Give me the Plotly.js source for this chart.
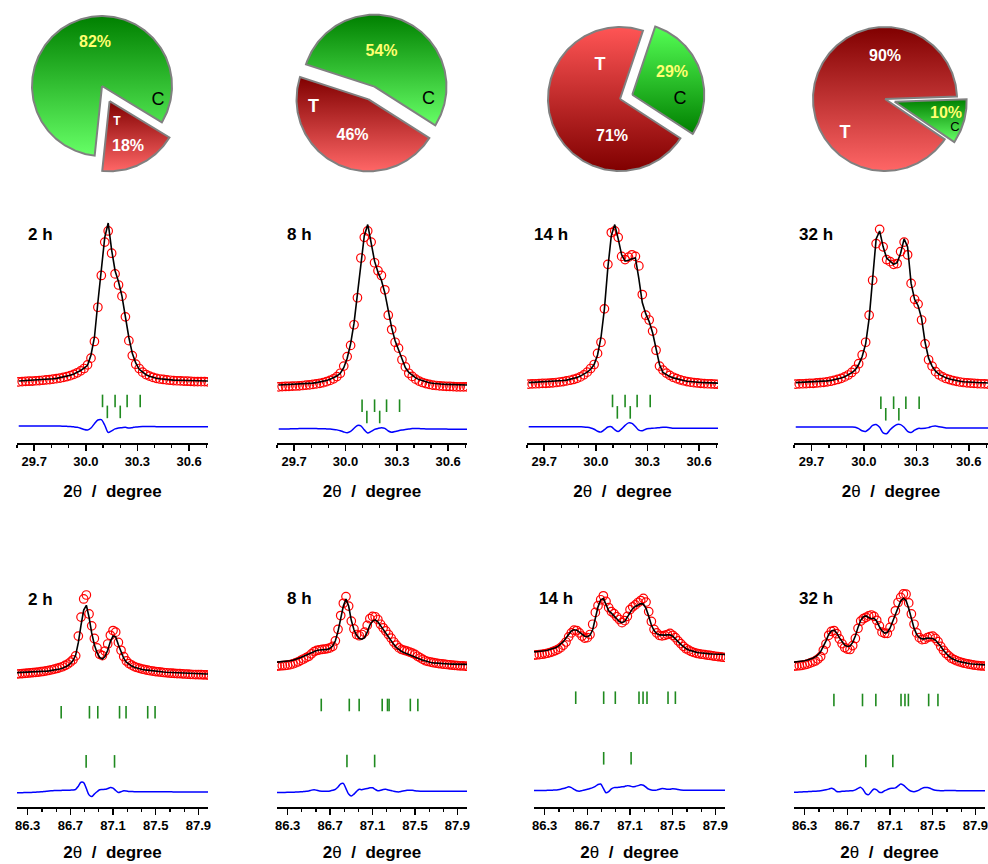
<!DOCTYPE html>
<html><head><meta charset="utf-8">
<script src="https://cdn.plot.ly/plotly-3.0.1.min.js"></script>
<style>html,body{margin:0;padding:0;background:#fff}#chart{width:988px;height:864px}</style>
</head><body><div id="chart"></div>
<script>
// ---------------- DATA ----------------
const times = ['2 h', '8 h', '14 h', '32 h'];
const pctC = [82, 54, 29, 10];
const pctT = [18, 46, 71, 90];

// 2theta grid, low-angle window
const topTheta = [29.61,29.63,29.65,29.67,29.69,29.71,29.73,29.75,29.77,29.79,
 29.81,29.83,29.85,29.87,29.89,29.91,29.93,29.95,29.97,29.99,
 30.01,30.03,30.05,30.07,30.09,30.11,30.13,30.15,30.17,30.19,
 30.21,30.23,30.25,30.27,30.29,30.31,30.33,30.35,30.37,30.39,
 30.41,30.43,30.45,30.47,30.49,30.51,30.53,30.55,30.57,30.59,
 30.61,30.63,30.65,30.67,30.69,30.71];

const topObs2h = [0.001,0.003,0.004,0.005,0.006,0.008,0.009,0.011,0.013,0.015,
 0.018,0.021,0.025,0.029,0.034,0.040,0.048,0.058,0.070,0.085,
 0.108,0.150,0.255,0.470,0.670,0.880,0.950,0.810,0.680,0.610,
 0.540,0.410,0.260,0.166,0.112,0.085,0.062,0.047,0.037,0.029,
 0.023,0.019,0.016,0.013,0.011,0.009,0.008,0.007,0.006,0.005,
 0.004,0.003,0.003,0.002,0.002,0.001];
const topCalc2h = [0.006,0.007,0.008,0.009,0.010,0.011,0.012,0.014,0.016,0.018,
 0.020,0.023,0.027,0.031,0.036,0.042,0.050,0.060,0.072,0.088,
 0.105,0.170,0.280,0.500,0.720,0.910,1.000,0.830,0.700,0.630,
 0.540,0.400,0.280,0.180,0.120,0.080,0.060,0.046,0.036,0.029,
 0.024,0.020,0.017,0.015,0.013,0.012,0.011,0.010,0.009,0.008,
 0.008,0.007,0.007,0.006,0.006,0.006];
const topDiff2h = [0,0,0,0.001,0.001,0.001,0.001,0.001,0.001,0.001,
 0.001,0,0,-0.001,-0.002,-0.003,-0.005,-0.008,-0.014,-0.022,
 -0.025,-0.012,0.015,0.038,0.040,0.005,-0.040,-0.030,-0.018,-0.012,
 -0.010,-0.008,-0.013,-0.010,-0.006,-0.004,-0.003,-0.003,-0.003,-0.003,
 -0.004,-0.004,-0.004,-0.004,-0.004,-0.004,-0.004,-0.004,-0.004,-0.004,
 -0.004,-0.004,-0.004,-0.004,-0.004,-0.004];

const topObs8h = [-0.030,-0.029,-0.028,-0.027,-0.026,-0.025,-0.024,-0.022,-0.020,-0.018,
 -0.015,-0.012,-0.008,-0.004,0.002,0.010,0.020,0.034,0.055,0.100,
 0.160,0.230,0.360,0.530,0.780,0.910,0.950,0.880,0.750,0.700,
 0.670,0.580,0.420,0.330,0.250,0.213,0.140,0.095,0.055,0.035,
 0.018,0.006,-0.003,-0.010,-0.015,-0.019,-0.022,-0.024,-0.026,-0.027,
 -0.028,-0.029,-0.030,-0.030,-0.031,-0.031];
const topCalc8h = [-0.019,-0.018,-0.018,-0.017,-0.016,-0.015,-0.014,-0.013,-0.011,-0.009,
 -0.007,-0.004,0.000,0.004,0.010,0.017,0.026,0.038,0.055,0.090,
 0.150,0.240,0.370,0.560,0.760,0.920,0.990,0.870,0.760,0.690,
 0.640,0.560,0.440,0.340,0.260,0.200,0.140,0.090,0.060,0.040,
 0.026,0.015,0.007,0.000,-0.005,-0.008,-0.011,-0.013,-0.014,-0.015,
 -0.016,-0.017,-0.018,-0.018,-0.019,-0.019];
const topDiff8h = [0,0,0.001,0.001,0.002,0.002,0.003,0.003,0.003,0.003,
 0.003,0.003,0.002,0.002,0.001,0,-0.002,-0.005,-0.010,-0.018,
 -0.023,-0.015,0.005,0.022,0.020,-0.005,-0.025,-0.015,-0.002,0.004,
 0.008,0.004,-0.012,-0.020,-0.015,-0.010,-0.006,-0.003,0,0.003,
 0.004,0.003,0.002,0.001,0,0,0,0,0,0,
 -0.001,-0.001,-0.001,-0.001,-0.001,-0.001];

const topObs14h = [-0.013,-0.012,-0.011,-0.010,-0.009,-0.008,-0.007,-0.005,-0.003,0.000,
 0.003,0.007,0.011,0.016,0.023,0.032,0.045,0.062,0.085,0.110,
 0.180,0.250,0.460,0.740,0.940,0.950,0.910,0.790,0.770,0.785,
 0.800,0.790,0.730,0.550,0.420,0.390,0.320,0.200,0.100,0.075,
 0.056,0.042,0.030,0.021,0.014,0.008,0.003,-0.001,-0.004,-0.006,
 -0.008,-0.010,-0.011,-0.012,-0.013,-0.014];
const topCalc14h = [-0.004,-0.003,-0.003,-0.002,-0.001,0.000,0.001,0.002,0.004,0.006,
 0.009,0.012,0.016,0.021,0.028,0.037,0.048,0.062,0.080,0.110,
 0.170,0.280,0.460,0.720,0.920,0.990,0.900,0.800,0.760,0.765,
 0.775,0.780,0.650,0.500,0.430,0.380,0.310,0.200,0.110,0.060,
 0.045,0.034,0.026,0.019,0.013,0.009,0.005,0.002,0.000,-0.002,
 -0.003,-0.004,-0.005,-0.006,-0.006,-0.007];
const topDiff14h = [0.004,0.004,0.004,0.004,0.004,0.004,0.004,0.004,0.004,0.004,
 0.004,0.004,0.004,0.004,0.004,0.003,0.002,0.000,-0.004,-0.012,
 -0.025,-0.030,-0.015,0.002,0.004,-0.015,-0.027,-0.010,0.012,0.028,
 0.025,0.005,-0.018,-0.022,-0.012,-0.008,-0.006,-0.004,-0.002,0.000,
 0.000,-0.002,-0.006,-0.006,-0.006,-0.006,-0.006,-0.006,-0.006,-0.006,
 -0.006,-0.006,-0.006,-0.006,-0.006,-0.006];

const topObs32h = [-0.013,-0.012,-0.011,-0.010,-0.009,-0.008,-0.006,-0.004,-0.002,0.001,
 0.005,0.010,0.016,0.023,0.032,0.044,0.060,0.080,0.115,0.170,
 0.250,0.420,0.640,0.870,0.960,0.850,0.770,0.757,0.740,0.745,
 0.820,0.880,0.800,0.620,0.520,0.490,0.390,0.240,0.140,0.100,
 0.065,0.045,0.032,0.022,0.015,0.009,0.004,0.000,-0.003,-0.005,
 -0.007,-0.009,-0.010,-0.011,-0.012,-0.013];
const topCalc32h = [-0.004,-0.003,-0.003,-0.002,-0.001,0.000,0.001,0.003,0.005,0.007,
 0.010,0.014,0.019,0.025,0.033,0.044,0.058,0.076,0.110,0.160,
 0.240,0.400,0.640,0.900,0.950,0.850,0.780,0.760,0.740,0.750,
 0.810,0.900,0.850,0.620,0.520,0.480,0.400,0.250,0.150,0.100,
 0.068,0.048,0.035,0.026,0.019,0.013,0.009,0.005,0.002,0.000,
 -0.002,-0.003,-0.004,-0.005,-0.005,-0.006];
const topDiff32h = [0.002,0.002,0.002,0.002,0.002,0.002,0.002,0.002,0.002,0.002,
 0.002,0.002,0.002,0.002,0.002,0.002,0.002,0.001,-0.008,-0.022,
 -0.026,-0.010,0.012,0.018,0.000,-0.035,-0.040,-0.015,0.005,0.018,
 0.017,0.000,-0.025,-0.032,-0.018,-0.007,-0.007,-0.006,-0.002,0.006,
 0.008,0.004,0.000,-0.004,-0.004,-0.004,-0.004,-0.004,-0.004,-0.004,
 -0.004,-0.004,-0.004,-0.004,-0.004,-0.004];

const topBraggRow1 = [30.097, 30.170, 30.240, 30.316];
const topBraggRow2 = [30.125, 30.200];

// 2theta grid, high-angle window
const botTheta = [86.200,86.225,86.250,86.275,86.300,86.325,86.350,86.375,
 86.400,86.425,86.450,86.475,86.500,86.525,86.550,86.575,
 86.600,86.625,86.650,86.675,86.700,86.725,86.750,86.775,
 86.800,86.825,86.850,86.875,86.900,86.925,86.950,86.975,
 87.000,87.025,87.050,87.075,87.100,87.125,87.150,87.175,
 87.200,87.225,87.250,87.275,87.300,87.325,87.350,87.375,
 87.400,87.425,87.450,87.475,87.500,87.525,87.550,87.575,
 87.600,87.625,87.650,87.675,87.700,87.725,87.750,87.775,
 87.800,87.825,87.850,87.875,87.900,87.925,87.950,87.975,
 88.000];

const botObs2h = [0.000,0.003,0.006,0.009,0.012,0.015,0.018,0.021,
 0.025,0.029,0.034,0.040,0.046,0.054,0.062,0.070,
 0.080,0.092,0.108,0.125,0.150,0.180,0.230,0.480,
 0.720,0.950,1.000,0.760,0.610,0.450,0.330,0.250,
 0.232,0.290,0.380,0.490,0.550,0.530,0.400,0.300,
 0.220,0.165,0.132,0.112,0.093,0.082,0.072,0.063,
 0.055,0.048,0.041,0.036,0.031,0.027,0.023,0.019,
 0.016,0.013,0.010,0.008,0.006,0.004,0.002,0.000,
 -0.002,-0.004,-0.006,-0.007,-0.008,-0.009,-0.010,-0.011,
 -0.012];
const botCalc2h = [0.017,0.018,0.019,0.020,0.021,0.022,0.024,0.026,
 0.028,0.030,0.033,0.036,0.040,0.044,0.049,0.055,
 0.063,0.073,0.087,0.105,0.130,0.170,0.240,0.400,
 0.620,0.810,0.870,0.720,0.520,0.370,0.270,0.210,
 0.190,0.220,0.300,0.410,0.480,0.470,0.370,0.270,
 0.200,0.150,0.120,0.100,0.085,0.074,0.065,0.058,
 0.052,0.047,0.042,0.038,0.034,0.031,0.028,0.025,
 0.022,0.020,0.018,0.016,0.014,0.012,0.010,0.009,
 0.008,0.006,0.005,0.004,0.003,0.002,0.001,0.000,
 0.000];
const botDiff2h = [-0.012,-0.012,-0.012,-0.011,-0.010,-0.009,-0.008,-0.006,
 -0.004,-0.002,0.002,0.006,0.010,0.012,0.014,0.015,
 0.016,0.017,0.018,0.019,0.020,0.022,0.030,0.070,
 0.120,0.115,0.040,-0.040,-0.062,-0.030,0.000,0.025,
 0.028,0.030,0.040,0.052,0.045,0.015,-0.010,0.000,
 0.012,0.010,0.004,0.002,0.000,0.000,0.000,0.000,
 0.000,0.000,-0.001,-0.001,-0.001,-0.001,-0.002,-0.002,
 -0.002,-0.002,-0.002,-0.003,-0.003,-0.003,-0.003,-0.003,
 -0.003,-0.003,-0.003,-0.004,-0.004,-0.004,-0.004,-0.004,
 -0.004];

const botObs8h = [0.100,0.102,0.105,0.108,0.112,0.118,0.128,0.140,
 0.155,0.172,0.190,0.207,0.225,0.255,0.284,0.298,
 0.306,0.312,0.316,0.322,0.330,0.350,0.420,0.565,
 0.740,0.895,0.980,0.860,0.670,0.570,0.500,0.484,
 0.500,0.530,0.615,0.700,0.730,0.725,0.690,0.630,
 0.585,0.545,0.500,0.455,0.405,0.365,0.330,0.310,
 0.300,0.290,0.278,0.265,0.248,0.225,0.205,0.185,
 0.168,0.158,0.150,0.143,0.137,0.132,0.128,0.124,
 0.120,0.116,0.113,0.110,0.107,0.104,0.102,0.100,
 0.099];
const botCalc8h = [0.150,0.152,0.155,0.158,0.162,0.168,0.175,0.185,
 0.196,0.210,0.225,0.240,0.256,0.272,0.287,0.298,
 0.303,0.305,0.307,0.312,0.325,0.355,0.420,0.540,
 0.700,0.860,0.950,0.860,0.680,0.560,0.490,0.450,
 0.440,0.460,0.530,0.620,0.670,0.685,0.660,0.610,
 0.560,0.510,0.465,0.420,0.375,0.335,0.305,0.285,
 0.270,0.258,0.245,0.232,0.218,0.203,0.188,0.174,
 0.162,0.153,0.146,0.141,0.137,0.134,0.131,0.129,
 0.127,0.126,0.125,0.124,0.123,0.122,0.122,0.121,
 0.121];
const botDiff8h = [-0.010,-0.010,-0.009,-0.009,-0.008,-0.007,-0.006,-0.005,
 -0.004,-0.002,0.002,0.006,0.010,0.020,0.025,0.018,
 0.010,0.007,0.005,0.006,0.010,0.018,0.030,0.060,
 0.100,0.105,0.040,-0.030,-0.055,-0.030,0.005,0.030,
 0.025,0.035,0.040,0.050,0.050,0.030,0.012,0.018,
 0.028,0.030,0.022,0.015,0.005,0.000,-0.002,0.005,
 0.012,0.018,0.020,0.018,0.012,0.008,0.006,0.005,
 0.005,0.005,0.005,0.005,0.005,0.005,0.005,0.005,
 0.005,0.005,0.005,0.005,0.005,0.005,0.005,0.005,
 0.005];

const botObs14h = [0.240,0.242,0.245,0.250,0.256,0.263,0.272,0.283,
 0.297,0.313,0.333,0.365,0.405,0.470,0.520,0.555,
 0.550,0.520,0.480,0.455,0.460,0.500,0.630,0.780,
 0.865,0.940,0.990,0.920,0.840,0.790,0.765,0.725,
 0.690,0.650,0.675,0.730,0.815,0.850,0.875,0.905,
 0.930,0.958,0.910,0.790,0.665,0.565,0.520,0.490,
 0.482,0.490,0.500,0.513,0.490,0.460,0.420,0.385,
 0.350,0.320,0.302,0.285,0.272,0.262,0.255,0.250,
 0.245,0.240,0.235,0.230,0.225,0.220,0.216,0.212,
 0.210];
const botCalc14h = [0.280,0.282,0.285,0.289,0.294,0.300,0.308,0.318,
 0.332,0.350,0.375,0.410,0.455,0.505,0.545,0.560,
 0.555,0.530,0.500,0.478,0.472,0.490,0.560,0.700,
 0.850,0.940,0.955,0.880,0.800,0.770,0.740,0.700,
 0.665,0.650,0.665,0.720,0.790,0.830,0.855,0.875,
 0.890,0.885,0.830,0.730,0.620,0.550,0.510,0.495,
 0.490,0.492,0.495,0.495,0.480,0.450,0.410,0.375,
 0.345,0.322,0.305,0.292,0.282,0.274,0.268,0.263,
 0.260,0.257,0.255,0.253,0.251,0.250,0.249,0.248,
 0.247];
const botDiff14h = [-0.008,-0.008,-0.007,-0.007,-0.006,-0.005,-0.004,-0.002,
 0.000,0.004,0.010,0.018,0.028,0.040,0.030,0.008,
 -0.010,-0.015,-0.008,0.000,0.008,0.018,0.030,0.045,
 0.070,0.075,0.020,-0.035,-0.020,0.015,0.030,0.030,
 0.035,0.040,0.045,0.055,0.050,0.040,0.045,0.055,
 0.065,0.060,0.035,0.010,0.000,-0.005,-0.002,0.008,
 0.018,0.015,0.008,0.010,0.015,0.012,0.005,0.000,
 -0.002,-0.002,-0.003,-0.003,-0.003,-0.003,-0.003,-0.004,
 -0.004,-0.004,-0.004,-0.004,-0.004,-0.004,-0.004,-0.004,
 -0.004];

const botObs32h = [0.100,0.102,0.105,0.110,0.117,0.126,0.138,0.152,
 0.165,0.190,0.220,0.300,0.380,0.490,0.540,0.550,
 0.510,0.445,0.385,0.335,0.315,0.310,0.360,0.450,
 0.578,0.670,0.700,0.718,0.735,0.747,0.730,0.680,
 0.610,0.530,0.515,0.515,0.590,0.680,0.800,0.905,
 0.970,1.013,1.010,0.900,0.760,0.630,0.520,0.460,
 0.435,0.440,0.460,0.472,0.480,0.450,0.410,0.350,
 0.300,0.260,0.230,0.200,0.183,0.168,0.155,0.145,
 0.136,0.128,0.122,0.116,0.111,0.107,0.104,0.101,
 0.100];
const botCalc32h = [0.150,0.153,0.157,0.162,0.168,0.176,0.186,0.200,
 0.218,0.245,0.285,0.345,0.420,0.500,0.545,0.555,
 0.520,0.460,0.405,0.365,0.348,0.355,0.400,0.480,
 0.590,0.680,0.725,0.735,0.715,0.700,0.705,0.670,
 0.600,0.545,0.518,0.525,0.580,0.670,0.770,0.860,
 0.925,0.958,0.930,0.830,0.700,0.580,0.500,0.460,
 0.445,0.445,0.455,0.455,0.450,0.430,0.395,0.350,
 0.300,0.258,0.225,0.200,0.182,0.168,0.157,0.148,
 0.141,0.135,0.130,0.126,0.122,0.119,0.117,0.115,
 0.114];
const botDiff32h = [-0.020,-0.019,-0.018,-0.016,-0.014,-0.012,-0.010,-0.008,
 -0.006,-0.004,0.000,0.005,0.012,0.020,0.030,0.018,
 -0.010,-0.012,-0.008,-0.006,-0.004,-0.002,0.000,0.010,
 0.030,0.042,0.010,-0.040,-0.050,-0.010,0.022,0.010,
 -0.020,-0.022,0.000,0.015,0.028,0.030,0.035,0.060,
 0.084,0.070,0.040,0.010,-0.008,-0.013,-0.005,0.010,
 0.030,0.040,0.040,0.030,0.015,0.005,0.002,0.000,
 0.000,0.002,0.003,0.003,0.002,0.000,0.000,0.000,
 0.000,0.000,0.000,0.000,0.000,0.000,0.000,0.000,
 0.000];

const botBraggRow1_2h  = [86.614, 86.879, 86.957, 87.161, 87.222, 87.425, 87.494];
const botBraggRow1_8h  = [86.617, 86.881, 86.974, 87.191, 87.241, 87.256, 87.456, 87.527];
const botBraggRow1_14h = [86.591, 86.853, 86.962, 87.184, 87.222, 87.259, 87.456, 87.525];
const botBraggRow1_32h = [86.574, 86.842, 86.967, 87.203, 87.240, 87.272, 87.462, 87.549];
const botBraggRow2_2h  = [86.848, 87.114];
const botBraggRow2_8h  = [86.859, 87.120];
const botBraggRow2_14h = [86.853, 87.110];
const botBraggRow2_32h = [86.873, 87.126];

// ---------------- STYLE / LAYOUT CONFIG ----------------
const W = 988, H = 864;
const FONT = 'Arial, "Liberation Sans", Helvetica, sans-serif';
const topXpx = [[17,208],[277,467],[527,718],[794,988]];
const botXpx = [[17,208],[277,467],[534,725],[794,985]];
const topYpx = [215, 443], botYpx = [585, 807];
const topXRange = [29.6, 30.71], botXRange = [86.2, 87.99];
const topYRange = [-0.3836, 1.0503], botYRange = [-1.6835, 1.1266];
const titleStandoff = {top: 17, bot: 14};
// vertical offsets: [bragg row1, bragg row2, difference curve]
const topOffsets = [[-0.119,-0.188,-0.277],[-0.149,-0.220,-0.296],[-0.119,-0.191,-0.285],[-0.130,-0.203,-0.285]];
const botOffsets = [[-0.484,-1.106,-1.490],[-0.392,-1.101,-1.490],[-0.300,-1.067,-1.468],[-0.329,-1.101,-1.477]];
const topLabelPx = [[26,235],[285,235],[532,235],[797,235]];
const botLabelPx = [[26,599],[285,598],[537,598],[797,598]];

// pies: center px, radius px, start angle of T slice (deg, ccw), pulls, colours (top, bottom)
const pieCfg = [
  {cx:102, cy:86, r:70, tStart:264, pullT:17, pullC:0,
   cTop:'#008000', cBot:'#66ff66', tTop:'#800000', tBot:'#ff6666'},
  {cx:371.5, cy:93, r:72, tStart:162, pullT:7, pullC:7,
   cTop:'#008000', cBot:'#66ff66', tTop:'#800000', tBot:'#ff6666'},
  {cx:620, cy:99, r:72, tStart:71.4, pullT:0, pullC:13,
   cTop:'#55ff55', cBot:'#008000', tTop:'#ff5555', tBot:'#800000'},
  {cx:885, cy:99, r:72, tStart:2, pullT:0, pullC:10,
   cTop:'#008000', cBot:'#66ff66', tTop:'#800000', tBot:'#ff6666'}
];
// pie label offsets from pie centre in px (dx right, dy up, font size): [pctC, 'C', 'T', pctT]
const pieLabelCfg = [
  {pc:[-7,43,16], c:[56,-14,18], t:[15,-36,12], pt:[26,-61,16]},
  {pc:[10,41,16], c:[57,-6,18],  t:[-58,-14,18], pt:[-19,-43,16]},
  {pc:[52,26,16], c:[60,0,18],   t:[-20,34,18], pt:[-8,-38,16]},
  {pc:[61,-15,16], c:[70,-29,13], t:[-40,-34,18], pt:[0,42,16]}
];

const topSets = [
  {obs:topObs2h, calc:topCalc2h, diff:topDiff2h, b1:topBraggRow1, b2:topBraggRow2},
  {obs:topObs8h, calc:topCalc8h, diff:topDiff8h, b1:topBraggRow1, b2:topBraggRow2},
  {obs:topObs14h, calc:topCalc14h, diff:topDiff14h, b1:topBraggRow1, b2:topBraggRow2},
  {obs:topObs32h, calc:topCalc32h, diff:topDiff32h, b1:topBraggRow1, b2:topBraggRow2}
];
const botSets = [
  {obs:botObs2h, calc:botCalc2h, diff:botDiff2h, b1:botBraggRow1_2h, b2:botBraggRow2_2h},
  {obs:botObs8h, calc:botCalc8h, diff:botDiff8h, b1:botBraggRow1_8h, b2:botBraggRow2_8h},
  {obs:botObs14h, calc:botCalc14h, diff:botDiff14h, b1:botBraggRow1_14h, b2:botBraggRow2_14h},
  {obs:botObs32h, calc:botCalc32h, diff:botDiff32h, b1:botBraggRow1_32h, b2:botBraggRow2_32h}
];

// ---------------- BUILD ----------------
const traces = [];
const layout = {
  width: W, height: H, margin: {l:0, r:0, t:0, b:0},
  paper_bgcolor: '#ffffff', plot_bgcolor: 'rgba(0,0,0,0)',
  showlegend: false, hovermode: false,
  font: {family: FONT, color: '#000'},
  annotations: []
};

function panel(idx, set, theta, xpx, ypx, xr, yr, offs, isTop, labelPx, label) {
  const n = idx + 1;
  const xa = 'x' + n, ya = 'y' + n;
  const key = n === 1 ? '' : n;
  traces.push({x: theta, y: set.obs, xaxis: xa, yaxis: ya, type: 'scatter', mode: 'markers',
    marker: {symbol: 'circle-open', size: 8.5, color: '#ff0000', line: {width: 1.2, color: '#ff0000'}}});
  traces.push({x: theta, y: set.calc, xaxis: xa, yaxis: ya, type: 'scatter', mode: 'lines',
    line: {color: '#000000', width: 1.6}});
  traces.push({x: set.b1, y: set.b1.map(() => offs[0]), xaxis: xa, yaxis: ya, type: 'scatter', mode: 'markers',
    marker: {symbol: 'line-ns', size: 9, line: {width: 1.6, color: '#1f8a1f'}}});
  traces.push({x: set.b2, y: set.b2.map(() => offs[1]), xaxis: xa, yaxis: ya, type: 'scatter', mode: 'markers',
    marker: {symbol: 'line-ns', size: 9, line: {width: 1.6, color: '#1f8a1f'}}});
  traces.push({x: theta, y: set.diff.map(v => v + offs[2]), xaxis: xa, yaxis: ya, type: 'scatter', mode: 'lines',
    line: {color: '#0000ff', width: 1.5, shape: 'spline', smoothing: 0.8}});
  layout['xaxis' + key] = {
    domain: [xpx[0] / W, xpx[1] / W], range: xr, anchor: ya,
    showline: true, linecolor: '#000', linewidth: 1.8, mirror: false,
    showgrid: false, zeroline: false,
    ticks: 'outside', ticklen: 6, tickwidth: 1.5, tickcolor: '#000',
    tick0: isTop ? 29.7 : 86.3, dtick: isTop ? 0.3 : 0.4,
    tickformat: '.1f', ticklabeloverflow: 'allow',
    minor: {ticks: 'outside', ticklen: 3.5, tickwidth: 1.2, tickcolor: '#000',
      tick0: isTop ? 29.7 : 86.3, dtick: isTop ? 0.1 : 0.4 / 3, showgrid: false},
    tickfont: {family: FONT, size: 13, weight: 'bold', color: '#000'},
    title: {text: '<b>2</b>θ\u00a0\u00a0<b>/\u00a0\u00a0degree</b>', font: {family: FONT, size: 17, color: '#000'},
      standoff: isTop ? titleStandoff.top : titleStandoff.bot}
  };
  layout['yaxis' + key] = {
    domain: [1 - ypx[1] / H, 1 - ypx[0] / H], range: yr, anchor: xa,
    visible: false, showgrid: false, zeroline: false, fixedrange: true
  };
  layout.annotations.push({xref: 'paper', yref: 'paper', x: labelPx[0] / W, y: 1 - labelPx[1] / H,
    xanchor: 'left', yanchor: 'middle', showarrow: false, text: '<b>' + label + '</b>',
    font: {family: FONT, size: 17, color: '#000'}});
}

for (let i = 0; i < 4; i++) {
  panel(i, topSets[i], topTheta, topXpx[i], topYpx, topXRange, topYRange, topOffsets[i], true, topLabelPx[i], times[i]);
  panel(i + 4, botSets[i], botTheta, botXpx[i], botYpx, botXRange, botYRange, botOffsets[i], false, botLabelPx[i], times[i]);
}

// ---- pies on a pixel-scaled overlay axis (x = px, y = 864 - py) ----
const PIE_TOP = 200;
layout.xaxis9 = {domain: [0, 1], range: [0, W], visible: false, fixedrange: true, anchor: 'y9'};
layout.yaxis9 = {domain: [1 - PIE_TOP / H, 1], range: [H - PIE_TOP, H], visible: false, fixedrange: true, anchor: 'x9'};

function sliceTrace(cx, cy, r, a0, a1, pull, cBottom, cTop) {
  const mid = (a0 + a1) / 2 * Math.PI / 180;
  const ox = cx + pull * Math.cos(mid), oy = (H - cy) + pull * Math.sin(mid);
  const xs = [ox], ys = [oy];
  const steps = Math.max(8, Math.ceil(a1 - a0));
  for (let k = 0; k <= steps; k++) {
    const a = (a0 + (a1 - a0) * k / steps) * Math.PI / 180;
    xs.push(ox + r * Math.cos(a)); ys.push(oy + r * Math.sin(a));
  }
  xs.push(ox); ys.push(oy);
  return {x: xs, y: ys, xaxis: 'x9', yaxis: 'y9', type: 'scatter', mode: 'lines', fill: 'toself',
    line: {color: '#808080', width: 2}, fillcolor: cTop,
    fillgradient: {type: 'vertical', colorscale: [[0, cBottom], [1, cTop]]}};
}

for (let i = 0; i < 4; i++) {
  const p = pieCfg[i];
  const tA0 = p.tStart, tA1 = p.tStart + pctT[i] * 3.6;
  const cA0 = tA1, cA1 = p.tStart + 360;
  traces.push(sliceTrace(p.cx, p.cy, p.r, cA0, cA1, p.pullC, p.cBot, p.cTop));
  traces.push(sliceTrace(p.cx, p.cy, p.r, tA0, tA1, p.pullT, p.tBot, p.tTop));
  const L = pieLabelCfg[i];
  const lx = [L.pc[0], L.c[0], L.t[0], L.pt[0]].map(d => p.cx + d);
  const ly = [L.pc[1], L.c[1], L.t[1], L.pt[1]].map(d => (H - p.cy) + d);
  traces.push({x: lx, y: ly, xaxis: 'x9', yaxis: 'y9', type: 'scatter', mode: 'text',
    text: ['<b>' + pctC[i] + '%</b>', 'C', '<b>T</b>', '<b>' + pctT[i] + '%</b>'],
    textposition: 'middle center', cliponaxis: false,
    textfont: {family: FONT, size: [L.pc[2], L.c[2], L.t[2], L.pt[2]],
      color: ['#ffff70', '#000000', '#ffffff', '#ffffff']}});
}

Plotly.newPlot('chart', traces, layout, {displayModeBar: false, staticPlot: true});
</script>
</body></html>
